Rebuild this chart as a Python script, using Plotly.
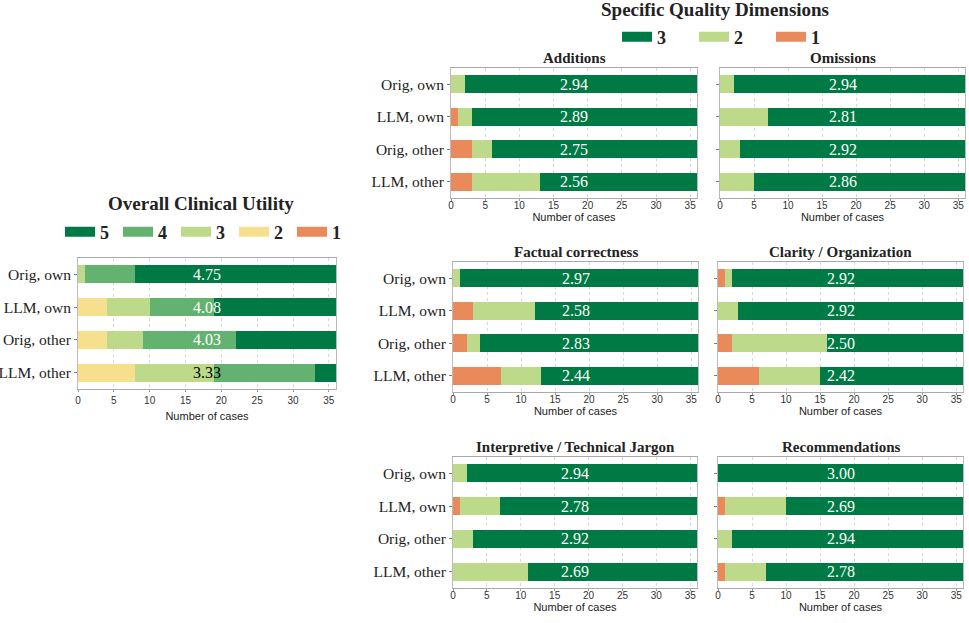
import plotly.graph_objects as go

W, H = 969, 623

categories = ["Orig, own", "LLM, own", "Orig, other", "LLM, other"]

# Overall clinical utility: counts per score (1..5) for each category
overall_scores = ["1", "2", "3", "4", "5"]
overall_counts = {
    "1": [0, 0, 0, 0],
    "2": [0, 4, 4, 8],
    "3": [1, 6, 5, 11],
    "4": [7, 9, 13, 14],
    "5": [28, 17, 14, 3],
}
overall_colors = {"1": "#ea8a5b", "2": "#f6e08e", "3": "#bdd98a", "4": "#63b26f", "5": "#007a44"}

# Specific quality dimensions: counts per score (1..3)
dim_scores = ["1", "2", "3"]
dim_names = ["Additions", "Omissions", "Factual correctness", "Clarity / Organization",
             "Interpretive / Technical Jargon", "Recommendations"]
dim_counts = {
    "Additions": {"1": [0, 1, 3, 3], "2": [2, 2, 3, 10], "3": [34, 33, 30, 23]},
    "Omissions": {"1": [0, 0, 0, 0], "2": [2, 7, 3, 5], "3": [34, 29, 33, 31]},
    "Factual correctness": {"1": [0, 3, 2, 7], "2": [1, 9, 2, 6], "3": [35, 24, 32, 23]},
    "Clarity / Organization": {"1": [1, 0, 2, 6], "2": [1, 3, 14, 9], "3": [34, 33, 20, 21]},
    "Interpretive / Technical Jargon": {"1": [0, 1, 0, 0], "2": [2, 6, 3, 11], "3": [34, 29, 33, 25]},
    "Recommendations": {"1": [0, 1, 0, 1], "2": [0, 9, 2, 6], "3": [36, 26, 34, 29]},
}
dim_colors = {"1": "#ea8a5b", "2": "#bdd98a", "3": "#007a44"}

x_ticks = [0, 5, 10, 15, 20, 25, 30, 35]

SERIF = "Liberation Serif"
SANS = "Liberation Sans"

# panel boxes in pixels (left, right, top, bottom)
boxes = {
    "overall": (78, 336, 258, 389),
    "Additions": (451, 697, 68, 198),
    "Omissions": (720, 965, 68, 198),
    "Factual correctness": (453, 698, 262, 392),
    "Clarity / Organization": (718, 963, 262, 392),
    "Interpretive / Technical Jargon": (453, 697, 457, 588),
    "Recommendations": (718, 963, 457, 588),
}

def px(x):
    return x / W

def py(y):
    return 1 - y / H

def dom(b):
    l, r, t, bt = b
    return [px(l), px(r)], [py(bt), py(t)]

fig = go.Figure()
layout = {}
annotations = []

def add_axes(idx, box, show_ylabels, lab_standoff, title_standoff):
    xd, yd = dom(box)
    sfx = "" if idx == 1 else str(idx)
    layout["xaxis" + sfx] = dict(
        domain=xd, anchor="y" + sfx, range=[0, 36], tickvals=x_ticks,
        tickfont=dict(family=SANS, size=10, color="#333"),
        showgrid=True, gridcolor="#d8d8d8", griddash="dot", gridwidth=1,
        showline=True, linecolor="#aaa", mirror=True, linewidth=1,
        ticks="outside", ticklen=2, tickcolor="#999", ticklabelstandoff=lab_standoff,
        title=dict(text="Number of cases", font=dict(family=SANS, size=11, color="#222"),
                   standoff=title_standoff),
        zeroline=False, fixedrange=True, automargin=False,
    )
    layout["yaxis" + sfx] = dict(
        domain=yd, anchor="x" + sfx, type="category",
        categoryorder="array", categoryarray=categories[::-1],
        showticklabels=show_ylabels,
        tickfont=dict(family=SERIF, size=15.5, color="#222"),
        showline=True, linecolor="#bbb", mirror=True, linewidth=1,
        ticks="outside", ticklen=3, tickcolor="#777",
        showgrid=False, fixedrange=True, automargin=False,
    )
    return ("x" + sfx, "y" + sfx)

def add_mean_labels(xa, ya, counts, scores, dark_scores):
    for i, cat in enumerate(categories):
        total = sum(counts[s][i] for s in scores)
        mean = sum(int(s) * counts[s][i] for s in scores) / total
        cum = 0
        seg = scores[-1]
        for s in scores:
            cum += counts[s][i]
            if cum > 18:
                seg = s
                break
        color = "white" if seg in dark_scores else "black"
        annotations.append(dict(
            x=18, y=cat, xref=xa, yref=ya, text=f"{mean:.2f}", showarrow=False,
            xanchor="center", yanchor="middle",
            font=dict(family=SERIF, size=16, color=color),
        ))

def title_ann(x, y, text, size):
    annotations.append(dict(x=px(x), y=py(y), xref="paper", yref="paper",
                            xanchor="center", yanchor="middle", text=f"<b>{text}</b>",
                            showarrow=False, font=dict(family=SERIF, size=size, color="#222")))

# Overall panel
xa, ya = add_axes(1, boxes["overall"], True, 0, 7)
for s in overall_scores:
    fig.add_trace(go.Bar(
        y=categories, x=overall_counts[s], orientation="h", name=s,
        marker=dict(color=overall_colors[s], line=dict(width=0)),
        xaxis=xa, yaxis=ya, showlegend=False, hoverinfo="x+name",
    ))
for s in overall_scores:
    fig.add_trace(go.Scatter(
        x=[None], y=[None], mode="lines", name=s, legend="legend",
        line=dict(color=overall_colors[s], width=15), xaxis=xa, yaxis=ya,
    ))
add_mean_labels(xa, ya, overall_counts, overall_scores, {"4", "5"})
title_ann(201, 203, "Overall Clinical Utility", 19)

# Dimension panels
for k, name in enumerate(dim_names):
    idx = k + 2
    box = boxes[name]
    xa, ya = add_axes(idx, box, name in ("Additions", "Factual correctness",
                                         "Interpretive / Technical Jargon"), -4, 3)
    for s in dim_scores:
        fig.add_trace(go.Bar(
            y=categories, x=dim_counts[name][s], orientation="h", name=s,
            marker=dict(color=dim_colors[s], line=dict(width=0)),
            xaxis=xa, yaxis=ya, showlegend=False, hoverinfo="x+name",
        ))
    if k == 0:
        for s in dim_scores:
            fig.add_trace(go.Scatter(
                x=[None], y=[None], mode="lines", name=s, legend="legend2",
                line=dict(color=dim_colors[s], width=15), xaxis=xa, yaxis=ya,
            ))
    add_mean_labels(xa, ya, dim_counts[name], dim_scores, {"3"})
    l, r, t, b = box
    title_ann((l + r) / 2, t - 10, name, 15)

title_ann(715, 10, "Specific Quality Dimensions", 19)

fig.update_layout(
    width=W, height=H,
    margin=dict(l=0, r=0, t=0, b=0, autoexpand=False),
    paper_bgcolor="white", plot_bgcolor="white",
    barmode="stack", bargap=0.45,
    annotations=annotations,
    legend=dict(orientation="h", x=px(60), y=py(232), xanchor="left", yanchor="middle",
                traceorder="reversed", itemwidth=30, entrywidth=13, entrywidthmode="pixels",
                font=dict(family=SERIF, size=18, color="#222", weight="bold"), bgcolor="rgba(0,0,0,0)",
                itemclick=False, itemdoubleclick=False),
    legend2=dict(orientation="h", x=px(617), y=py(37), xanchor="left", yanchor="middle",
                 traceorder="reversed", itemwidth=30, entrywidth=32, entrywidthmode="pixels",
                 font=dict(family=SERIF, size=18, color="#222", weight="bold"), bgcolor="rgba(0,0,0,0)",
                 itemclick=False, itemdoubleclick=False),
    **layout,
)

fig.write_html("out.html", config={"displayModeBar": False},
               post_script="document.body.style.margin='0';")
